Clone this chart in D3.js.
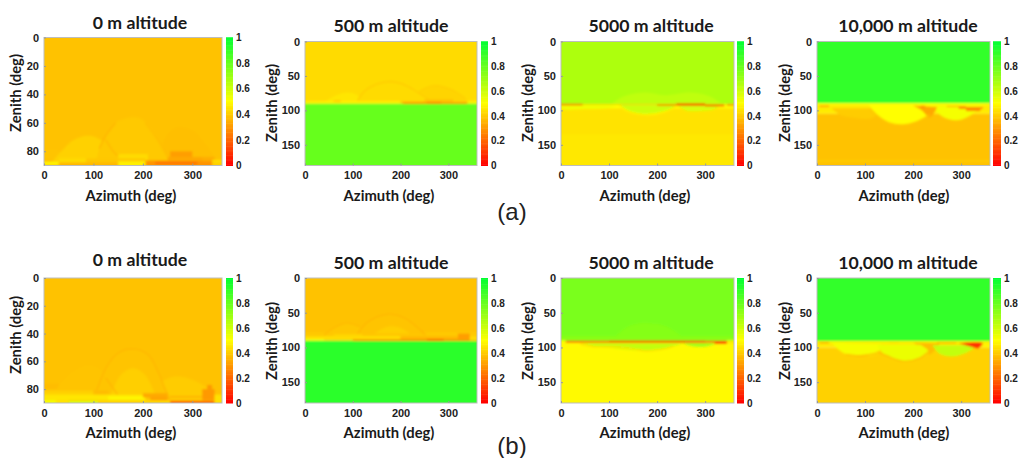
<!DOCTYPE html>
<html><head><meta charset="utf-8">
<style>html,body{margin:0;padding:0;background:#fff;overflow:hidden}svg{display:block}</style>
<script src="https://cdn.jsdelivr.net/npm/d3@7/dist/d3.min.js"></script>
</head><body><svg id="c" width="1021" height="458"></svg>
<script>
// Axis content
const titles = ["0 m altitude","500 m altitude","5000 m altitude","10,000 m altitude"];
const azTicks = [0,100,200,300];
const zenTicksGround = [0,20,40,60,80];
const zenTicksAir = [0,50,100,150];
const barTicks = [0,0.2,0.4,0.6,0.8,1];
const barLevels = d3.range(0,1.0001,0.01);
const rowLabels = ["(a)","(b)"];

// Each panel: bands [az0,az1,zen0,zen1,value]; domes [value,[az,zen]...]; arcs [value,[az,zen]...]
// Layers are painted in the order: under bands, domes, arcs, over bands.
const a0 = {
 under:[[0,360,0,90,.38],[0,30,79,85,.385],[30,130,81,85,.40]],
 domes:[[.375,[235,88],[243,72],[255,66],[270,63],[300,65],[325,74],[345,84],[350,88]],
        [.41,[15,88],[35,80],[60,72],[90,69],[115,72],[135,82],[140,88]],
        [.395,[105,88],[112,78],[125,69],[145,60],[165,57],[180,56],[195,57],[215,63],[235,75],[250,85],[255,88]]],
 arcs:[[.355,[112,78],[125,69],[145,60]],[.36,[125,72],[145,82],[160,85]],[.37,[205,60],[230,72],[250,84]]],
 over:[[150,210,82,88,.43],[85,205,85,88,.39],[30,85,85,88,.43],[205,345,86.5,90,.29],[225,310,87.5,89,.22],[255,300,80,84,.31],[250,330,84,86.5,.33],[320,345,84,87,.34],[0,30,87.5,89.5,.49],[30,150,88,90,.36],[150,205,87,90,.47],[340,360,86,88,.44],[340,360,88,90,.41]]
};
const a500 = {
 under:[[0,360,0,90,.43],[0,360,90,180,.8]],
 domes:[[.415,[225,88],[240,72],[255,66],[270,64],[305,68],[335,82],[345,88]],
        [.45,[40,88],[65,78],[90,74],[110,78],[125,88]],
        [.43,[110,88],[125,72],[150,62],[180,58],[215,65],[245,78],[265,88]]],
 arcs:[[.40,[110,86],[125,72],[150,62],[180,58],[215,65],[245,78],[262,86]],[.405,[240,72],[270,64],[305,70],[335,82]]],
 over:[[0,200,86.5,90,.47],[60,75,85,88,.41],[200,255,87,90,.39],[250,310,84,88,.38],[205,340,88.5,90.5,.27],[255,285,88,90,.24],[340,360,86,90,.47]]
};
const a5000 = {
 under:[[0,360,0,91,.66],[0,360,91,180,.445],[0,360,135,180,.455],[0,360,91,97,.5]],
 domes:[[.625,[105,91],[130,80],[175,74],[215,78],[270,74],[310,80],[335,91]],
        [.53,[0,91],[0,97],[50,98],[100,96],[120,91]],
        [.6,[120,91],[140,101],[165,105],[180,106],[205,104],[225,99],[240,92]],
        [.58,[240,91],[260,100],[290,101],[320,98],[335,91]]],
 arcs:[[.48,[120,92],[140,101],[180,106],[215,102],[240,94]]],
 over:[[0,45,90.5,92.5,.16],[45,200,91,92,.38],[200,240,91,93,.22],[240,300,90,93,.12],[300,340,91.5,94,.14],[345,360,91,93,.24]]
};
const a10000 = {
 under:[[0,360,0,90,.9],[0,360,90,105,.46],[0,360,105,180,.38],[0,360,172,175,.40]],
 domes:[[.40,[30,97],[50,107],[80,111],[110,112],[125,105],[110,97]],
        [.50,[108,92],[125,106],[150,118],[178,121],[205,117],[235,105],[245,92]],
        [.52,[240,93],[255,106],[275,113],[295,114],[320,107],[345,93]],
        [.33,[200,93],[218,100],[235,110],[250,95]]],
 arcs:[[.39,[110,97],[130,110],[150,118],[178,121],[205,117],[235,106]]],
 over:[[5,25,93,95,.3],[270,310,94,95,.25],[215,225,93,97,.3],[295,345,95,98,.27],[310,340,98,101,.27],[0,360,90,92,.5]]
};
const b0 = {
 under:[[0,360,0,90,.38],[0,30,76,80,.37]],
 domes:[[.385,[25,80],[50,70],[90,63],[120,68],[135,80]],
        [.40,[205,88],[225,78],[265,71],[305,74],[345,84],[350,88]],
        [.385,[105,85],[115,73],[130,62],[150,54],[180,51],[210,55],[230,67],[245,80],[255,88]],
        [.405,[135,84],[155,70],[180,65],[205,70],[225,84]]],
 arcs:[[.36,[105,83],[115,73],[130,62],[150,54],[180,51],[210,55],[230,67],[245,80],[255,88]],[.36,[125,72],[145,82],[150,85]]],
 over:[[0,100,81,85,.41],[100,130,81,85,.37],[0,200,84,88,.45],[130,205,85,88,.48],[200,250,83,86,.33],[215,250,86,89,.31],[255,320,85,86,.34],[320,345,80,88,.3],[330,340,77,84,.3],[255,345,88.5,90,.2],[0,25,88,90,.52],[50,110,88.5,90,.58],[25,50,88,90,.45],[110,255,88,90,.42],[345,360,84,90,.44]]
};
const b500 = {
 under:[[0,360,0,90,.38],[0,360,90,180,.92],[0,360,78,84,.395]],
 domes:[[.39,[40,82],[60,72],[88,65],[115,70],[130,82]],
        [.385,[110,82],[130,64],[155,55],[180,52],[210,58],[240,74],[255,82]],
        [.405,[145,80],[165,72],[180,70],[200,72],[220,80]]],
 arcs:[[.36,[110,80],[130,64],[155,55],[180,52],[210,58],[240,74],[252,82]],[.365,[40,82],[60,72],[88,65],[115,70]]],
 over:[[0,200,84,88,.44],[60,120,81,85,.42],[200,320,84,88,.36],[320,345,80,88,.31],[0,40,88,90,.5],[40,100,88,90,.42],[100,360,88.5,90.5,.26],[255,290,88.5,90.5,.14],[345,360,84,90,.43]]
};
const b5000 = {
 under:[[0,360,0,91,.76],[0,360,91,180,.49],[0,360,84,91,.73]],
 domes:[[.74,[110,86],[135,72],[160,66],[180,65],[205,67],[225,72],[255,86]],
        [.62,[40,94],[70,98],[110,101],[175,104],[225,100],[255,94]],
        [.68,[250,93],[270,98],[300,99],[325,94]]],
 arcs:[[.44,[40,95],[70,99],[110,99],[150,102],[175,105],[215,102],[235,98]]],
 over:[[0,10,90,92,.5],[10,360,90.5,93,.16],[100,300,90.5,92.5,.1],[320,345,92,95,.12],[345,360,90,93,.5]]
};
const b10000 = {
 under:[[0,360,0,91,.9],[0,360,91,100,.46],[0,360,100,180,.41]],
 domes:[[.52,[30,93],[55,108],[90,112],[125,109],[135,95]],
        [.37,[200,93],[215,100],[235,110],[255,94]],
        [.54,[125,96],[140,110],[180,120],[215,115],[233,106],[215,96]],
        [.62,[240,97],[255,109],[280,113],[310,108],[335,97]],
        [.1,[295,94],[345,94],[335,102]]],
 arcs:[[.37,[60,110],[90,112],[125,108]],[.37,[125,106],[145,112],[180,120],[215,115],[238,102]]],
 over:[[5,25,92,94,.3],[250,290,93,94,.24],[150,170,92,93.5,.4],[0,360,91,92,.55],[60,200,93,94,.46],[345,360,94,100,.48]]
};

const rows = [[a0,a500,a5000,a10000],[b0,b500,b5000,b10000]];

const svg = d3.select("#c");
const color = d3.scaleLinear().domain([0,.5,1]).range(["#ff0000","#ffff00","#00ff33"]).clamp(true);
svg.append("defs").append("filter").attr("id","soft")
   .attr("x","-5%").attr("y","-5%").attr("width","110%").attr("height","110%")
   .append("feGaussianBlur").attr("stdDeviation",1.0);

const colX = [[44,222,226,233],[305,477,481,488],[561,734,737,744],[817,990,993,1001]];
const titleX = [140,391,651,908];
const azLabelX = [131,389,645,904];
const zenLabelX = [16,272,528,785];
const rowGeom = [
 {top:[37.5,41.5,41.5,41.5],bottom:165.5,titleY:[23,26,26,26],azY:196,zenY:[93,103,103,103]},
 {top:[278,278,278,278],bottom:403,titleY:[260,263,263,263],azY:433,zenY:[335,341,341,341]}
];
const rowLabelY = [212,446];

const curve = d3.line().curve(d3.curveCatmullRom.alpha(0.5));
const num = "'Liberation Sans',Arial,sans-serif";
const head = "Lato,'Open Sans',sans-serif";

rows.forEach((row,r)=>{
 const g0 = rowGeom[r];
 row.forEach((p,c)=>{
  const [xl,xr,bl,br] = colX[c];
  const top = g0.top[c], bot = g0.bottom;
  const zenMax = c===0 ? 90 : 180;
  const x = d3.scaleLinear().domain([0,360]).range([xl,xr]);
  const y = d3.scaleLinear().domain([0,zenMax]).range([top,bot]);
  const id = `clip${r}${c}`;
  svg.select("defs").append("clipPath").attr("id",id)
     .append("rect").attr("x",xl).attr("y",top).attr("width",xr-xl).attr("height",bot-top);
  const g = svg.append("g").attr("clip-path",`url(#${id})`);
  const heat = g.append("g").attr("filter","url(#soft)");
  const pad = 5;
  const band = d => {
    const x0 = x(d[0]) - (d[0]===0?pad:0), x1 = x(d[1]) + (d[1]===360?pad:0);
    const y0 = y(d[2]) - (d[2]===0?pad:0), y1 = y(d[3]) + (d[3]===zenMax?pad:0);
    return {x:x0,y:y0,w:x1-x0,h:y1-y0,v:d[4]};
  };
  const drawBands = list => heat.selectAll(null).data(list.map(band)).join("rect")
     .attr("x",d=>d.x).attr("y",d=>d.y).attr("width",d=>d.w).attr("height",d=>d.h)
     .attr("fill",d=>color(d.v));
  drawBands(p.under);
  heat.selectAll(null).data(p.domes).join("path")
     .attr("d",d=>curve(d.slice(1).map(q=>[x(q[0]),y(q[1])]))+"Z")
     .attr("fill",d=>color(d[0]));
  heat.selectAll(null).data(p.arcs).join("path")
     .attr("d",d=>curve(d.slice(1).map(q=>[x(q[0]),y(q[1])])))
     .attr("fill","none").attr("stroke-width",1.4).attr("stroke",d=>color(d[0]));
  drawBands(p.over);

  // frame
  svg.append("rect").attr("x",xl).attr("y",top).attr("width",xr-xl).attr("height",bot-top)
     .attr("fill","none").attr("stroke","#bdbdbd").attr("stroke-width",1);

  const axB = svg.append("g").attr("transform",`translate(0,${bot})`)
     .call(d3.axisBottom(x).tickValues(azTicks).tickSize(-2).tickPadding(6).tickFormat(d3.format("d")));
  const axL = svg.append("g").attr("transform",`translate(${xl},0)`)
     .call(d3.axisLeft(y).tickValues(c===0?zenTicksGround:zenTicksAir).tickSize(-2).tickPadding(5).tickFormat(d3.format("d")));
  [axB,axL].forEach(a=>{
    a.select(".domain").remove();
    a.selectAll("line").attr("stroke","#999");
    a.selectAll("text").attr("font-family",num).attr("font-weight",700).attr("font-size",11).attr("fill","#222");
  });

  // colour bar
  const by = d3.scaleLinear().domain([0,1]).range([bot,top]);
  svg.append("g").selectAll("rect").data(barLevels).join("rect")
     .attr("x",bl).attr("width",br-bl)
     .attr("y",d=>by(Math.min(1,d+0.01))).attr("height",d=>by(d)-by(Math.min(1,d+0.01))+0.5)
     .attr("fill",d=>color(d));
  const axR = svg.append("g").attr("transform",`translate(${br},0)`)
     .call(d3.axisRight(by).tickValues(barTicks).tickSize(0).tickPadding(3).tickFormat(d3.format("")));
  axR.select(".domain").remove();
  axR.selectAll("text").attr("font-family",num).attr("font-weight",700).attr("font-size",10).attr("fill","#222");

  // labels
  svg.append("text").text(titles[c]).attr("x",titleX[c]).attr("y",g0.titleY[c]).attr("dy","0.35em")
     .attr("text-anchor","middle").attr("font-family",head).attr("font-weight",700).attr("font-size",17.7).attr("fill","#1a1a1a");
  svg.append("text").text("Azimuth (deg)").attr("x",azLabelX[c]).attr("y",g0.azY).attr("dy","0.35em")
     .attr("text-anchor","middle").attr("font-family",head).attr("font-weight",700).attr("font-size",14.8).attr("fill","#1a1a1a");
  svg.append("text").text("Zenith (deg)").attr("transform",`translate(${zenLabelX[c]},${g0.zenY[c]}) rotate(-90)`)
     .attr("dy","0.35em").attr("text-anchor","middle").attr("font-family",head).attr("font-weight",700).attr("font-size",14.8).attr("fill","#1a1a1a");
 });
 svg.append("text").text(rowLabels[r]).attr("x",512).attr("y",rowLabelY[r]).attr("dy","0.35em")
    .attr("text-anchor","middle").attr("font-family",num).attr("font-size",24).attr("fill","#222");
});
</script></body></html>
